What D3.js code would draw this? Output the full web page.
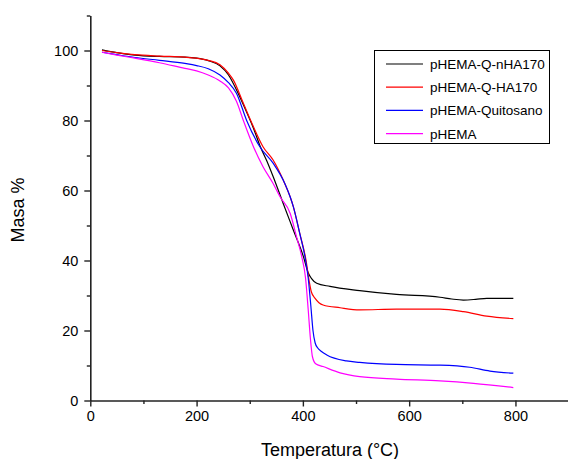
<!DOCTYPE html>
<html><head><meta charset="utf-8">
<script src="https://cdn.jsdelivr.net/npm/d3@7"></script>
<style>body{margin:0;background:#fff}svg{display:block}text{font-family:"Liberation Sans",Arial,sans-serif}</style>
</head><body>
<svg id="c" width="568" height="459"></svg>
<script>
const seriesNames = ["pHEMA-Q-nHA170","pHEMA-Q-HA170","pHEMA-Quitosano","pHEMA"];
const seriesColors = ["#000000","#ff0000","#0000ff","#ff00ff"];
const xTicks = [0,200,400,600,800];
const yTicks = [0,20,40,60,80,100];
const tempNHA = [22,50,84,130,178,200,222,244,260,279,288,307,320,332,344,363,382,401,410,416,426,451,507,576,658,680,702,725,746,796];
const masaNHA = [100.2,99.4,98.7,98.3,98.1,97.8,97.1,95.6,93,87.5,84.5,77.8,72.5,68.5,64,56.3,48.7,41.1,36.5,34.9,33.5,32.6,31.4,30.3,29.5,29,28.7,28.9,29.2,29.2];
const tempHA = [22,50,84,130,178,200,222,244,260,269,288,307,325,344,363,376,382,394,406,412,416,423,438,470,507,576,658,702,746,796];
const masaHA = [100,99.4,98.8,98.4,98.1,97.8,97.2,95.9,93.5,91.6,84.9,78.2,72.5,68.7,63,58.2,55.4,47.8,40,34,31,29.2,27.3,26.5,25.9,26.1,26.1,25.4,24.1,23.4];
const tempQ = [22,50,84,130,178,200,222,244,260,275,294,319,344,366,376,382,394,404,410,415,419,423,428,435,445,482,507,576,658,714,752,796];
const masaQ = [99.5,98.8,98,97.2,96.3,95.7,94.8,93,90.8,87.8,80.1,72.5,67.8,62,58.2,55.4,47.8,41,35,27,20,16.5,15,14,13,11.3,10.9,10.3,10.1,9.5,8.4,7.8];
const tempP = [22,50,84,130,178,200,222,244,260,275,288,307,325,344,357,376,388,398,405,410,414,418,424,438,470,507,576,658,721,796];
const masaP = [99.5,98.7,97.8,96.5,94.9,94.2,93,91.3,89.3,85.5,80,72.5,66.8,62,58.2,53.5,46.8,41,35,26,18,12.5,10.5,9.7,7.9,6.8,6.1,5.6,4.9,3.7];

const temps = [tempNHA,tempHA,tempQ,tempP];
const masas = [masaNHA,masaHA,masaQ,masaP];

const svg = d3.select("#c");
const x = d3.scaleLinear().domain([0,900]).range([90.3,568.6]);
const y = d3.scaleLinear().domain([0,110]).range([400.5,15.5]);

const line = d3.line().x(d=>x(d[0])).y(d=>y(d[1])).curve(d3.curveMonotoneX);
temps.forEach((t,i)=>{
  const pts = t.map((v,j)=>[v,masas[i][j]]);
  svg.append("path").attr("d",line(pts)).attr("fill","none")
    .attr("stroke",seriesColors[i]).attr("stroke-width",1.2);
});

// axes
const axisColor = "#222";
const xAxis = svg.append("g").attr("transform",`translate(0,${y(0)})`)
  .call(d3.axisBottom(x).tickValues(xTicks).tickSize(6).tickSizeOuter(0).tickPadding(4));
svg.append("g").attr("transform",`translate(0,${y(0)})`)
  .call(d3.axisBottom(x).tickValues([100,300,500,700,900]).tickSize(3.5).tickFormat("").tickSizeOuter(0))
  .select(".domain").remove();
const yAxis = svg.append("g").attr("transform",`translate(${x(0)},0)`)
  .call(d3.axisLeft(y).tickValues(yTicks).tickSize(6).tickSizeOuter(0).tickPadding(6));
svg.append("g").attr("transform",`translate(${x(0)},0)`)
  .call(d3.axisLeft(y).tickValues([10,30,50,70,90,110]).tickSize(3.5).tickFormat("").tickSizeOuter(0))
  .select(".domain").remove();
svg.selectAll(".domain").attr("stroke",axisColor).attr("stroke-width",1.6);
svg.selectAll(".tick line").attr("stroke",axisColor).attr("stroke-width",1.4);
svg.selectAll(".tick text").attr("fill","#000").style("font-size","14.5px").style("font-family","'Liberation Sans',Arial,sans-serif");

svg.append("text").attr("x",330).attr("y",456).attr("text-anchor","middle")
  .style("font-size","18px").text("Temperatura (°C)");
svg.append("text").attr("transform","translate(24,210) rotate(-90)").attr("text-anchor","middle")
  .style("font-size","18px").text("Masa %");

// legend
const lg = svg.append("g");
lg.append("rect").attr("x",374.5).attr("y",50.5).attr("width",175).attr("height",93)
  .attr("fill","#fff").attr("stroke","#000").attr("stroke-width",1);
seriesNames.forEach((n,i)=>{
  const yy = 64 + i*23.2;
  lg.append("line").attr("x1",386).attr("x2",423).attr("y1",yy).attr("y2",yy)
    .attr("stroke",seriesColors[i]).attr("stroke-width",1.2);
  lg.append("text").attr("x",430).attr("y",yy+5).style("font-size","13.5px").text(n);
});
</script>
</body></html>
